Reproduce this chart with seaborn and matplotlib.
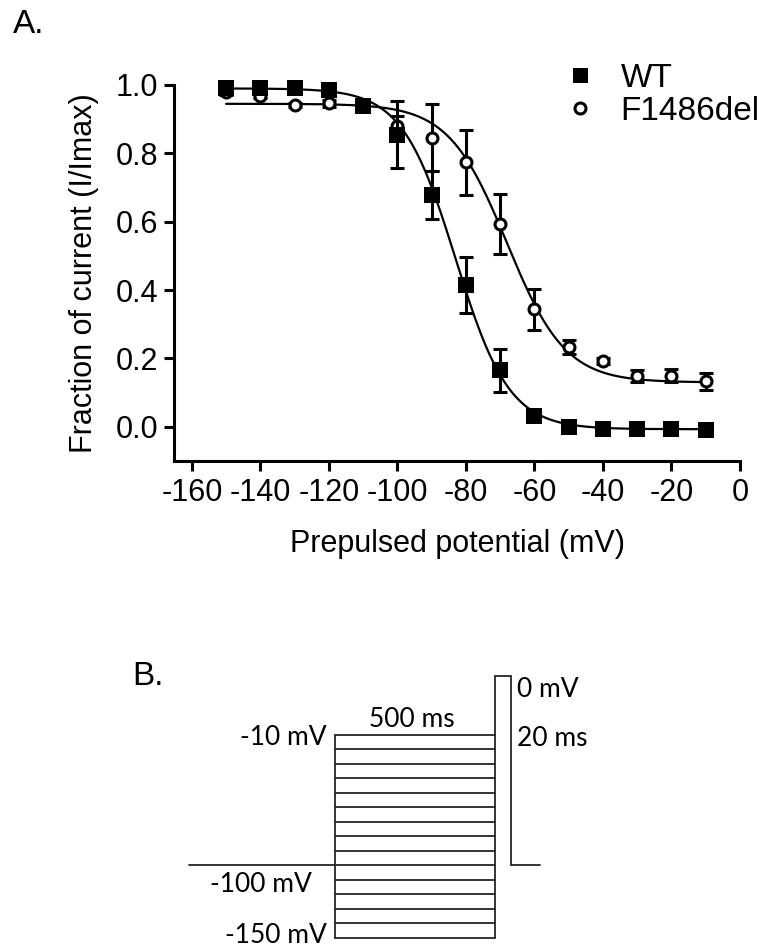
import numpy as np
import pandas as pd
import matplotlib
matplotlib.use("Agg")
import matplotlib.pyplot as plt
import seaborn as sns
from matplotlib.lines import Line2D

# ---------------- data (panel A) ----------------
voltage_mV = [-150, -140, -130, -120, -110, -100, -90, -80, -70, -60, -50, -40, -30, -20, -10]
wt_mean = [0.990, 0.990, 0.990, 0.985, 0.940, 0.854, 0.678, 0.414, 0.165, 0.033, 0.000, -0.006, -0.006, -0.005, -0.008]
wt_sem = [0.008, 0.006, 0.006, 0.008, 0.015, 0.098, 0.071, 0.082, 0.064, 0.015, 0.005, 0.004, 0.004, 0.004, 0.004]
mut_mean = [0.980, 0.967, 0.942, 0.947, 0.938, 0.880, 0.845, 0.774, 0.593, 0.344, 0.234, 0.192, 0.149, 0.150, 0.133]
mut_sem = [0.008, 0.006, 0.006, 0.010, 0.010, 0.030, 0.098, 0.095, 0.087, 0.060, 0.020, 0.008, 0.017, 0.020, 0.025]
series_names = ["WT", "F1486del"]

# Boltzmann fit parameters (top, bottom, V1/2, slope k)
wt_fit = (0.990, -0.007, -83.0, 7.8)
mut_fit = (0.945, 0.130, -68.0, 8.5)

x_ticks = [-160, -140, -120, -100, -80, -60, -40, -20, 0]
y_ticks = [0.0, 0.2, 0.4, 0.6, 0.8, 1.0]

# ---------------- data (panel B, protocol schematic) ----------------
step_levels_mV = [-10, -20, -30, -40, -50, -60, -70, -80, -90, -100, -110, -120, -130, -140, -150]
holding_mV = -100
test_pulse_draw_level = 30.6   # schematic height of the 0 mV test pulse
durations = {"pre": 0.9125, "step": 1.0, "test": 0.1, "tail": 0.18}  # schematic units (500 ms step, 20 ms test)

# ---------------- style ----------------
sns.set_style("ticks")
plt.rcParams["font.family"] = ["Liberation Sans", "DejaVu Sans"]
plt.rcParams["axes.linewidth"] = 2.2
plt.rcParams["text.color"] = "black"
plt.rcParams["axes.labelcolor"] = "black"
plt.rcParams["xtick.color"] = "black"
plt.rcParams["ytick.color"] = "black"

fig = plt.figure(figsize=(7.62, 9.49), dpi=100)
W, H = 762, 949

# ---------------- panel A ----------------
ax = fig.add_axes([174 / W, 1 - 461 / H, 566 / W, 376 / H])


def boltz(v, p):
    top, bottom, vh, k = p
    return bottom + (top - bottom) / (1 + np.exp((v - vh) / k))


vv = np.linspace(min(voltage_mV), max(voltage_mV), 300)
fit_df = pd.concat([
    pd.DataFrame({"V": vv, "I": boltz(vv, wt_fit), "series": "WT"}),
    pd.DataFrame({"V": vv, "I": boltz(vv, mut_fit), "series": "F1486del"}),
])
sns.lineplot(data=fit_df, x="V", y="I", hue="series", palette=["black", "black"],
             linewidth=1.6, legend=False, ax=ax, clip_on=False, zorder=2)

eb_kw = dict(fmt="none", ecolor="black", elinewidth=2.2, capsize=4.7, capthick=2.2, clip_on=False)
e1 = ax.errorbar(voltage_mV, mut_mean, yerr=mut_sem, zorder=3, **eb_kw)
e2 = ax.errorbar(voltage_mV, wt_mean, yerr=wt_sem, zorder=5, **eb_kw)
for e in (e1, e2):
    for art in e.lines[1] + e.lines[2]:
        art.set_clip_on(False)

sns.scatterplot(x=voltage_mV, y=mut_mean, marker="o", s=62, facecolor="white",
                edgecolor="black", linewidth=2.2, ax=ax, zorder=4, clip_on=False)
sns.scatterplot(x=voltage_mV, y=wt_mean, marker="s", s=117, color="black",
                edgecolor="black", linewidth=0, ax=ax, zorder=6, clip_on=False)

ax.set_xlim(-165.2, 0)
ax.set_ylim(-0.1, 1.0)
ax.set_xticks(x_ticks)
ax.set_xticklabels([f"{t:d}" for t in x_ticks])
ax.set_yticks(y_ticks)
ax.set_yticklabels([f"{t:.1f}" for t in y_ticks])
ax.tick_params(axis="both", which="major", length=7.2, width=2.2, labelsize=22,
               direction="out", color="black", labelcolor="black")
ax.tick_params(axis="y", pad=4.3)
ax.tick_params(axis="x", pad=5.0)
sns.despine(ax=ax)
ax.spines["left"].set_color("black")
ax.spines["bottom"].set_color("black")
ax.set_xlabel("Prepulsed potential (mV)", fontsize=22, labelpad=15)
ax.set_ylabel("Fraction of current (I/Imax)", fontsize=22, labelpad=12)

handles = [
    Line2D([], [], marker="s", ls="none", color="black", markersize=10.8, markeredgewidth=0),
    Line2D([], [], marker="o", ls="none", markerfacecolor="white", markeredgecolor="black",
           markersize=7.9, markeredgewidth=2.2),
]
fig.legend(handles, series_names, loc="upper left", bbox_to_anchor=(563.5 / W, 1 - 63 / H),
           bbox_transform=fig.transFigure, frameon=False, fontsize=24, handlelength=1.0,
           handletextpad=0.71, labelspacing=0.05, borderpad=0, borderaxespad=0)

fig.text(13 / W, 1 - 33 / H, "A.", fontsize=24, va="baseline", ha="left")

# ---------------- panel B ----------------
t_hold0 = 0.0
t_step0 = t_hold0 + durations["pre"]
t_step1 = t_step0 + durations["step"]
t_test1 = t_step1 + durations["test"]
t_end = t_test1 + durations["tail"]

ax2 = fig.add_axes([189 / W, 1 - 938 / H, 351 / W, 262 / H])
ax2.set_xlim(t_hold0, t_end)
ax2.set_ylim(min(step_levels_mV), test_pulse_draw_level)
ax2.axis("off")
lc = "#262626"
lw = 1.3
# holding segment
sns.lineplot(x=[t_hold0, t_step0], y=[holding_mV, holding_mV], color=lc, linewidth=lw,
             ax=ax2, clip_on=False)
# step levels
for lvl in step_levels_mV:
    ax2.plot([t_step0, t_step1], [lvl, lvl], color=lc, lw=lw, clip_on=False)
ax2.plot([t_step0, t_step0], [max(step_levels_mV), min(step_levels_mV)], color=lc, lw=lw, clip_on=False)
# test pulse and tail
ax2.plot([t_step1, t_step1, t_test1, t_test1, t_end],
         [max(step_levels_mV), test_pulse_draw_level, test_pulse_draw_level, holding_mV, holding_mV],
         color=lc, lw=lw, clip_on=False, solid_joinstyle="miter")
ax2.plot([t_step1, t_step1], [max(step_levels_mV), min(step_levels_mV)], color=lc, lw=lw, clip_on=False)

tkw = dict(textcoords="offset pixels", fontsize=19, family=["Lato", "DejaVu Sans"],
           color="black", va="baseline", annotation_clip=False)
ax2.annotate("-10 mV", xy=(t_step0, max(step_levels_mV)), xytext=(-8, -10), ha="right", **tkw)
ax2.annotate("500 ms", xy=((t_step0 + t_step1) / 2, max(step_levels_mV)), xytext=(-3, 8), ha="center", **tkw)
ax2.annotate("0 mV", xy=(t_test1, test_pulse_draw_level), xytext=(6, -21), ha="left", **tkw)
ax2.annotate("20 ms", xy=(t_test1, test_pulse_draw_level), xytext=(6, -70), ha="left", **tkw)
ax2.annotate("-100 mV", xy=(t_step0, holding_mV), xytext=(-23, -27), ha="right", **tkw)
ax2.annotate("-150 mV", xy=(t_step0, min(step_levels_mV)), xytext=(-8, -5), ha="right", **tkw)

fig.text(132 / W, 1 - 685 / H, "B.", fontsize=24, va="baseline", ha="left")

fig.savefig("out.png", dpi=100, facecolor="white")
